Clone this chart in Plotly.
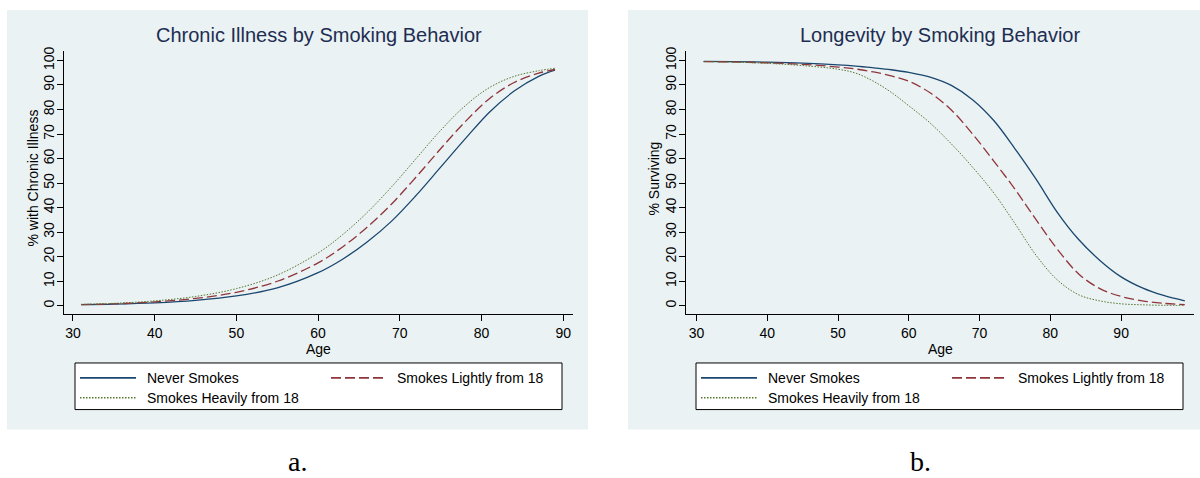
import plotly.graph_objects as go

# ---------------- data ----------------
series_names = ["Never Smokes", "Smokes Lightly from 18", "Smokes Heavily from 18"]

age_illness = [31, 35, 40, 45, 50, 55, 60, 63, 66, 69, 72, 75, 78, 81, 84, 87, 89]
illness_never = [0.5, 0.7, 1.2, 2.2, 4.0, 7.3, 13.5, 19.0, 26.0, 34.5, 45.0, 56.5, 68.0, 79.0, 87.5, 93.5, 96.0]
illness_light = [0.5, 0.8, 1.6, 3.0, 5.5, 10.0, 17.5, 24.0, 32.0, 41.5, 52.5, 64.0, 75.0, 84.5, 91.0, 94.8, 96.3]
illness_heavy = [0.6, 1.0, 2.0, 3.8, 7.0, 12.5, 21.5, 29.0, 38.0, 48.5, 60.0, 71.5, 81.5, 89.0, 93.5, 95.8, 96.8]

age_survival = [31, 35, 40, 45, 50, 52.5, 55, 57.5, 60, 63, 66, 69, 72, 75, 78, 81, 84, 87, 90, 93, 96, 99]
survival_never = [99.6, 99.5, 99.3, 98.9, 98.2, 97.7, 97.0, 96.2, 95.1, 93.2, 89.8, 84.0, 75.5, 64.0, 51.5, 38.0, 27.0, 18.5, 11.8, 7.3, 4.2, 2.0]
survival_light = [99.5, 99.4, 99.0, 98.4, 97.3, 96.5, 95.3, 93.7, 91.5, 86.8, 79.8, 70.0, 59.0, 47.5, 35.0, 23.0, 13.0, 7.0, 3.8, 2.0, 1.0, 0.5]
survival_heavy = [99.5, 99.3, 98.8, 97.9, 96.4, 94.8, 91.5, 87.0, 81.5, 74.5, 66.0, 56.5, 46.0, 33.5, 20.5, 10.5, 4.5, 2.0, 0.8, 0.4, 0.2, 0.1]

y_ticks = [0, 10, 20, 30, 40, 50, 60, 70, 80, 90, 100]
x_ticks_left = [30, 40, 50, 60, 70, 80, 90]
x_ticks_right = [30, 40, 50, 60, 70, 80, 90]

titles = ["Chronic Illness by Smoking Behavior", "Longevity by Smoking Behavior"]
y_titles = ["% with Chronic Illness", "% Surviving"]
x_title = "Age"
panel_labels = ["a.", "b."]

# ---------------- styling ----------------
W, H = 1200, 478
COLORS = ["#1a476f", "#90353b", "#55752f"]
DASHES = ["solid", "10px,4px", "1.5px,1.5px"]
WIDTHS = [1.3, 1.3, 1.0]
BG = "#EAF2F3"
GRID = "#EAF2F3"
TITLE_C = "#1E2D52"
FONT = "Liberation Sans, Arial, Helvetica, sans-serif"


def px_x(p):
    return p / W


def px_y(p):
    return 1 - p / H


fig = go.Figure()

panels = [
    dict(x=age_illness, ys=[illness_never, illness_light, illness_heavy], xd=(64, 573),
         xr=[28.9, 91.2], xt=x_ticks_left, bg=(7, 588), off=0, label_x=297),
    dict(x=age_survival, ys=[survival_never, survival_light, survival_heavy], xd=(686, 1194),
         xr=[28.5, 100.3], xt=x_ticks_right, bg=(628, 1200), off=621, label_x=920),
]

plot_top, plot_bot = 47, 313
for i, p in enumerate(panels):
    xa = "x" if i == 0 else "x2"
    ya = "y" if i == 0 else "y2"
    off = p["off"]
    for k in range(3):
        fig.add_trace(go.Scatter(
            x=p["x"], y=p["ys"][k], mode="lines", name=series_names[k],
            line=dict(color=COLORS[k], dash=DASHES[k], width=WIDTHS[k], shape="spline", smoothing=1.0),
            xaxis=xa, yaxis=ya, showlegend=False,
        ))
    # background panel
    fig.add_shape(type="rect", xref="paper", yref="paper",
                  x0=px_x(p["bg"][0]), x1=px_x(p["bg"][1]), y0=px_y(429), y1=px_y(6),
                  fillcolor=BG, line=dict(width=0), layer="below")
    # title
    fig.add_annotation(text=titles[i], xref="paper", yref="paper",
                       x=px_x((p["xd"][0] + p["xd"][1]) / 2), y=px_y(31),
                       xanchor="center", yanchor="middle", showarrow=False,
                       font=dict(size=20, color=TITLE_C, family=FONT))
    # axis titles
    fig.add_annotation(text=y_titles[i], xref="paper", yref="paper",
                       x=px_x(33 + off), y=px_y((plot_top + plot_bot) / 2 - 4),
                       xanchor="center", yanchor="middle", showarrow=False, textangle=-90,
                       font=dict(size=14, color="black", family=FONT))
    fig.add_annotation(text=x_title, xref="paper", yref="paper",
                       x=px_x((p["xd"][0] + p["xd"][1]) / 2), y=px_y(348),
                       xanchor="center", yanchor="middle", showarrow=False,
                       font=dict(size=14, color="black", family=FONT))
    # panel label
    fig.add_annotation(text=panel_labels[i], xref="paper", yref="paper",
                       x=px_x(p["label_x"]), y=px_y(461),
                       xanchor="center", yanchor="middle", showarrow=False,
                       font=dict(size=28, color="black", family="Liberation Serif, Times New Roman, serif"))
    # legend box
    fig.add_shape(type="rect", xref="paper", yref="paper",
                  x0=px_x(75 + off), x1=px_x(562 + off), y0=px_y(409), y1=px_y(362),
                  fillcolor="white", line=dict(color="black", width=1))
    legend_items = [(80, 136, 145, 377), (331, 383, 395, 377), (80, 136, 145, 397)]
    for k, (lx0, lx1, tx, ly) in enumerate(legend_items):
        fig.add_shape(type="line", xref="paper", yref="paper",
                      x0=px_x(lx0 + off), x1=px_x(lx1 + off), y0=px_y(ly), y1=px_y(ly),
                      line=dict(color=COLORS[k], dash=DASHES[k], width=WIDTHS[k] + 0.4))
        fig.add_annotation(text=series_names[k], xref="paper", yref="paper",
                           x=px_x(tx + off), y=px_y(ly), xanchor="left", yanchor="middle",
                           showarrow=False, font=dict(size=14, color="black", family=FONT))

axis_common = dict(showline=True, linecolor="black", linewidth=1, ticks="outside",
                   ticklen=6, tickcolor="black", tickfont=dict(size=14, color="black", family=FONT),
                   zeroline=False, mirror=False)

for i, p in enumerate(panels):
    sx = "" if i == 0 else "2"
    fig.update_layout(**{
        f"xaxis{sx}": dict(domain=[px_x(p["xd"][0]), px_x(p["xd"][1])], range=p["xr"],
                           tickvals=p["xt"], showgrid=False, anchor="y" + sx,
                           **axis_common),
        f"yaxis{sx}": dict(domain=[px_y(plot_bot), px_y(plot_top)], range=[-3.5, 104],
                           tickvals=y_ticks, tickangle=-90, showgrid=True, gridcolor=GRID,
                           gridwidth=1, anchor="x" + sx, ticklabelstandoff=-3,
                           **axis_common),
    })

fig.update_layout(
    width=W, height=H, margin=dict(l=0, r=0, t=0, b=0),
    paper_bgcolor="white", plot_bgcolor="white",
    showlegend=False,
)

fig.write_html("out.html")
